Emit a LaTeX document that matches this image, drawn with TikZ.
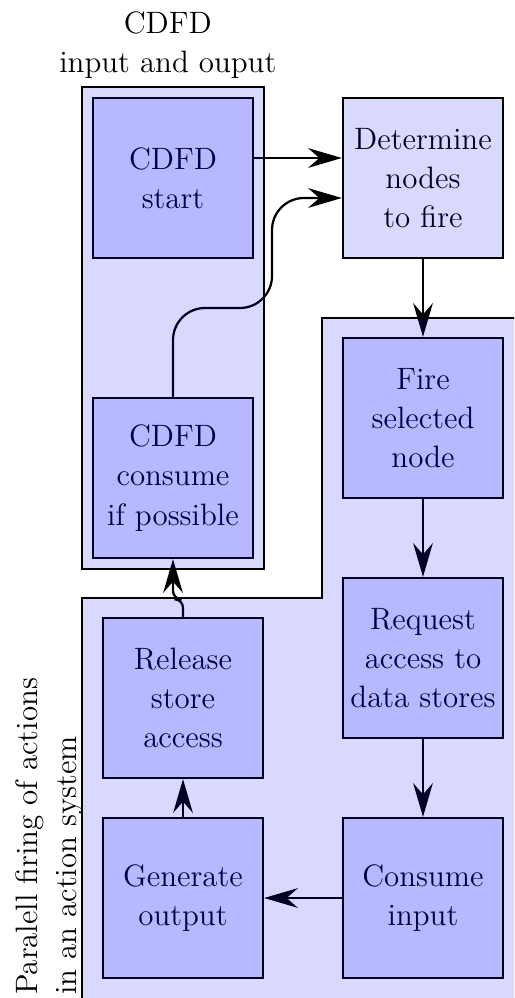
\documentclass[tikz,border=0pt]{standalone}
\usetikzlibrary{arrows.meta,fit}

\begin{document}
\begin{tikzpicture}[thick, every node/.style={font=\fontsize{11}{14}\selectfont},
  box/.style={rectangle, draw, fill=blue!15, text=blue!15!black, minimum size=2cm, inner sep=1pt, align=center},
  area/.style={draw, fill=blue, fill opacity=0.15},
  flow/.style={-{Stealth[length=12pt, width=7pt, inset=4pt]}}]

\useasboundingbox (-5.2875,2.225) rectangle (1.1375,-10.25);
\clip (-5.2875,2.225) rectangle (1.1375,-10.25);

%% CDFD
\node[align=center] at (-3.19,1.66) (Title) {CDFD\\input and ouput};

% Start y consumo
\node[box] at (-3.125,0) (Start) {CDFD\\start};
\node[box] at (-3.125,-3.75) (Cons) {CDFD\\consume\\if possible};

% Seleccion
\node[box] at (0,0) (Det) {Determine\\nodes\\to fire};

%% SISTEMA DE ACCIONES
\node[box] at (0,-3) (Fire) {Fire\\selected\\node};
\node[box] at (0,-6) (Req) {Request\\access to\\data stores};
\node[box] at (0,-9) (Input) {Consume\\input};
\node[box] at (-3,-9) (Gen) {Generate\\output};
\node[box] at (-3,-6.5) (Rel) {Release\\store\\access};

\node[rotate=90, anchor=south west, align=left, inner sep=0pt] at (-4.2375,-10.225) (Label)
{Paralell firing of actions\\in an action system};

% Flechas
\draw[flow] ([yshift=0.25cm]Start.east) -- ([yshift=0.25cm]Det.west);
\coordinate (Bend) at (-1.8875,-1.625);
\draw[flow, rounded corners=0.4cm] (Cons.north) |- (Bend) |- ([yshift=-0.25cm]Det.west);
\draw[flow] (Det) -- (Fire);
\draw[flow] (Fire) -- (Req);
\draw[flow] (Req) -- (Input);
\draw[flow] (Input) -- (Gen);
\draw[flow] (Gen) -- (Rel);
\draw[flow, rounded corners=3pt] (Rel.north) -- ++(0,0.22) -| (Cons.south);

% Regiones
\node[fit=(Start)(Cons), inner sep=0.125cm, area] (IO) {};
\filldraw[area] (-4.2625,-10.6) -- (-4.2625,-5.25) -- (-1.2625,-5.25) -- (-1.2625,-1.75)
  -- (1.6,-1.75) -- (1.6,-10.6) -- cycle;

\end{tikzpicture}
\end{document}
